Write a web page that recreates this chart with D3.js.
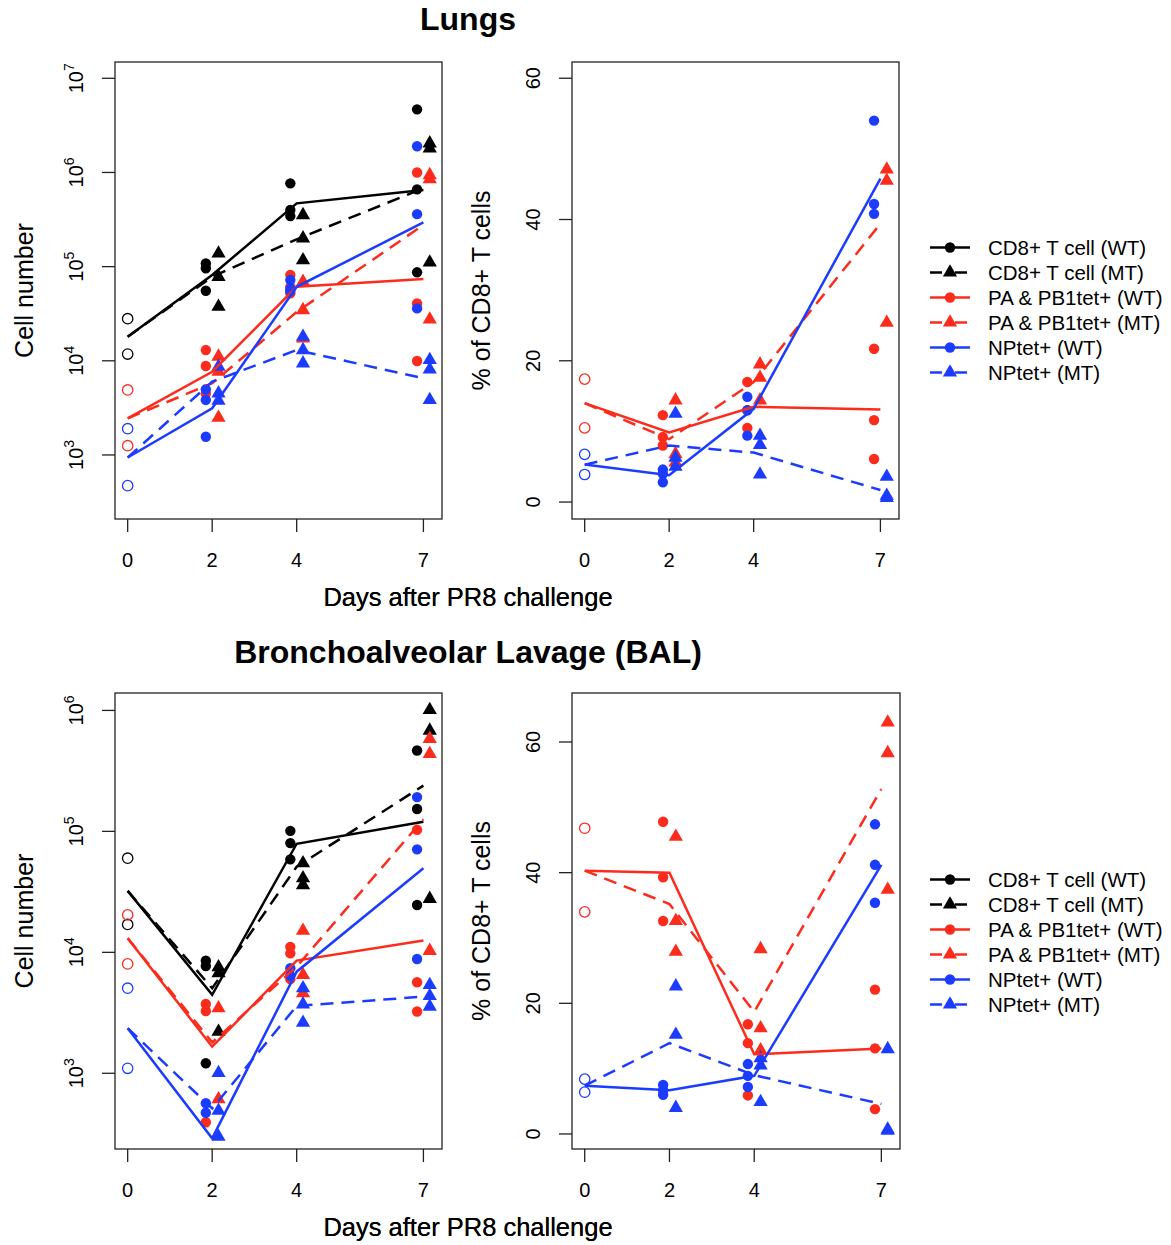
<!DOCTYPE html>
<html>
<head>
<meta charset="utf-8">
<script src="https://cdn.jsdelivr.net/npm/d3@7"></script>
<style>
	body { margin: 0; background: #fff; }
	text { font-family: "Liberation Sans", Arial, Helvetica, sans-serif; fill: #000; }
</style>
</head>
<body>
<svg id="chart" width="1171" height="1245"></svg>
<script>
// days after challenge, and series in legend order
var days = [0, 2, 4, 7];
var seriesNames = ["CD8+ T cell (WT)", "CD8+ T cell (MT)", "PA & PB1tet+ (WT)", "PA & PB1tet+ (MT)", "NPtet+ (WT)", "NPtet+ (MT)"];

var logTicksLung = [1e3, 1e4, 1e5, 1e6, 1e7];
var logTicksBal = [1e3, 1e4, 1e5, 1e6];
var pctTicks = [0, 20, 40, 60];

// --- Lungs, cell number: mean line (days 0,2,4,7) and replicates (days 2,4,7)
var lungCountMeans = [
	[18000, 81500, 470000, 650000],
	[18000, 78000, 195000, 678000],
	[2450, 7650, 61000, 73800],
	[2450, 5770, 33000, 277000],
	[940, 3130, 61000, 295000],
	[940, 6000, 13000, 6520]
];
var lungCountReps = [
	[[108000, 96000, 55500], [766000, 399000, 344000], [4680000, 662000, 87000]],
	[[138000, 78000, 37500], [353000, 200000, 117000], [2040000, 1800000, 111000]],
	[[13000, 8800, 4500], [81500, 61000, 52000], [1000000, 40700, 9950]],
	[[11100, 7650, 2490], [69000, 34600, 17300], [938000, 850000, 27500]],
	[[4980, 3840, 1560], [72000, 58000, 55000], [1900000, 361000, 36000]],
	[[8650, 4520, 3780], [18000, 13000, 9400], [10200, 8100, 3840]]
];
// naive (day 0) per cell type: CD8, PA & PB1, NP
var lungCountDay0 = [[28000, 11800], [4900, 1255], [1900, 472]];

// --- Lungs, % of CD8+
var lungPctMeans = [
	null,
	null,
	[14.0, 9.85, 13.5, 13.1],
	[14.0, 8.9, 17.0, 39.4],
	[5.3, 3.8, 13.2, 45.8],
	[5.3, 8.0, 7.0, 1.7]
];
var lungPctReps = [
	null,
	null,
	[[12.3, 9.2, 8.0], [17.0, 13.0, 10.5], [21.7, 11.6, 6.1]],
	[[14.4, 6.8, 5.6], [19.5, 17.6, 14.4], [47.1, 45.5, 25.4]],
	[[4.6, 4.0, 2.8], [14.9, 13.0, 9.4], [54.0, 42.2, 40.8]],
	[[12.5, 6.3, 5.0], [9.4, 8.1, 3.9], [3.6, 0.9, 0.6]]
];
var lungPctDay0 = [null, [17.4, 10.5], [6.75, 3.9]];

// --- BAL, cell number
var balCountMeans = [
	[32200, 4450, 79000, 120000],
	[32200, 5050, 51000, 239000],
	[13100, 1660, 8540, 12500],
	[13100, 1800, 7620, 126000],
	[2356, 290, 6920, 49600],
	[2356, 513, 3600, 4300]
];
var balCountReps = [
	[[8530, 7710, 1210], [101000, 80000, 58700], [466000, 153000, 24600]],
	[[7540, 6720, 2210], [54600, 41000, 36000], [1010000, 682000, 27700]],
	[[3740, 3270, 394], [11100, 9800, 6000], [103000, 5660, 3240]],
	[[3450, 610], [15100, 6500, 4600], [582000, 437000, 10300]],
	[[565, 472], [7400, 6400], [192000, 71000, 8810]],
	[[1006, 491, 299], [5050, 3720, 2620], [5370, 4360, 3560]]
];
var balCountDay0 = [[60000, 17000], [20400, 8020], [5050, 1100]];

// --- BAL, % of CD8+
var balPctMeans = [
	null,
	null,
	[40.3, 40.0, 12.2, 13.1],
	[40.3, 35.2, 18.7, 52.8],
	[7.4, 6.7, 8.9, 41.2],
	[7.4, 13.9, 9.0, 4.6]
];
var balPctReps = [
	null,
	null,
	[[47.8, 39.3, 32.6], [16.8, 13.9, 5.9], [22.1, 13.1, 3.8]],
	[[45.5, 32.6, 27.9], [28.3, 16.2, 12.8], [63.0, 58.3, 37.4]],
	[[7.5, 6.7, 6.0], [10.7, 8.9, 7.2], [47.4, 41.2, 35.4]],
	[[22.6, 15.2, 4.0], [11.6, 10.5, 4.9], [13.0, 0.7, 0.5]]
];
var balPctDay0 = [null, [46.8, 34.0], [8.4, 6.4]];

// styles
var RED = "#fc2b1c", BLUE = "#1b3cff";
var typeColors = ["#000000", RED, BLUE];
var DASH = "13,8";

var svg = d3.select("#chart");

function drawPanel(opt) {
	var b = opt.box;
	var g = svg.append('g');
	var clipId = "clip" + opt.id;

	svg.append('clipPath').attr('id', clipId)
		.append('rect')
		.attr('x', b.left).attr('y', b.top)
		.attr('width', b.right - b.left).attr('height', b.bottom - b.top);

	var x = d3.scaleLinear().domain([-0.3, 7.44]).range([b.left, b.right]);
	var y = (opt.log ? d3.scaleLog() : d3.scaleLinear()).domain(opt.yDomain).range([b.bottom, b.top]);

	// frame
	g.append('rect')
		.attr('x', b.left).attr('y', b.top)
		.attr('width', b.right - b.left).attr('height', b.bottom - b.top)
		.attr('fill', "none").attr('stroke', "#222").attr('stroke-width', 1.3);

	// x ticks
	days.forEach(function(d) {
		g.append('line')
			.attr('x1', x(d)).attr('x2', x(d))
			.attr('y1', b.bottom).attr('y2', b.bottom + 13)
			.attr('stroke', "#222").attr('stroke-width', 1.3);
		g.append('text')
			.attr('x', x(d)).attr('y', b.bottom + 48)
			.attr('text-anchor', "middle").attr('font-size', 20)
			.text(d);
	});

	// y ticks
	opt.yTicks.forEach(function(t) {
		g.append('line')
			.attr('x1', b.left - 13).attr('x2', b.left)
			.attr('y1', y(t)).attr('y2', y(t))
			.attr('stroke', "#222").attr('stroke-width', 1.3);
		var label = g.append('text')
			.attr('transform', "translate(" + (b.left - 32) + "," + y(t) + ") rotate(-90)")
			.attr('text-anchor', "middle").attr('font-size', 20);
		if (opt.log) {
			label.append('tspan').text("10");
			label.append('tspan').attr('dy', -9).attr('font-size', 14).text(Math.round(Math.log10(t)));
		} else {
			label.text(t);
		}
	});

	// axis titles
	g.append('text')
		.attr('transform', "translate(" + (b.left - 82) + "," + ((b.top + b.bottom) / 2) + ") rotate(-90)")
		.attr('text-anchor', "middle").attr('font-size', 25)
		.text(opt.yLabel);
	g.append('text')
		.attr('x', 468).attr('y', b.bottom + 87)
		.attr('text-anchor', "middle").attr('font-size', 25.5)
		.text("Days after PR8 challenge");

	var plot = g.append('g').attr('clip-path', "url(#" + clipId + ")");

	// naive day-0 open circles
	opt.day0.forEach(function(vals, t) {
		if (!vals) return;
		vals.forEach(function(v) {
			plot.append('circle')
				.attr('cx', x(0)).attr('cy', y(v)).attr('r', 5.2)
				.attr('fill', "none").attr('stroke', typeColors[t]).attr('stroke-width', 1.3);
		});
	});

	// replicate points: WT circles left of the day, MT triangles right
	var tri = d3.symbol(d3.symbolTriangle, 88);
	opt.reps.forEach(function(byDay, s) {
		if (!byDay) return;
		var color = typeColors[Math.floor(s / 2)];
		var mt = s % 2 === 1;
		byDay.forEach(function(vals, k) {
			var day = days[k + 1];
			vals.forEach(function(v) {
				if (mt) {
					plot.append('path')
						.attr('d', tri())
						.attr('transform', "translate(" + x(day + 0.15) + "," + y(v) + ")")
						.attr('fill', color);
				} else {
					plot.append('circle')
						.attr('cx', x(day - 0.15)).attr('cy', y(v)).attr('r', 5.2)
						.attr('fill', color);
				}
			});
		});
	});

	// mean lines
	var line = d3.line()
		.x(function(d, i) { return x(days[i]); })
		.y(function(d) { return y(d); });
	opt.means.forEach(function(vals, s) {
		if (!vals) return;
		plot.append('path')
			.attr('d', line(vals))
			.attr('fill', "none")
			.attr('stroke', typeColors[Math.floor(s / 2)])
			.attr('stroke-width', 2.5)
			.attr('stroke-dasharray', s % 2 === 1 ? DASH : null);
	});
}

function drawLegend(top) {
	var g = svg.append('g');
	var tri = d3.symbol(d3.symbolTriangle, 88);

	seriesNames.forEach(function(name, s) {
		var yy = top + s * 25;
		var color = typeColors[Math.floor(s / 2)];
		var mt = s % 2 === 1;

		g.append('line')
			.attr('x1', 930).attr('x2', 970).attr('y1', yy).attr('y2', yy)
			.attr('stroke', color).attr('stroke-width', 2.5)
			.attr('stroke-dasharray', mt ? "12,13" : null);
		if (mt) {
			g.append('path').attr('d', tri()).attr('transform', "translate(950," + yy + ")").attr('fill', color);
		} else {
			g.append('circle').attr('cx', 950).attr('cy', yy).attr('r', 5.2).attr('fill', color);
		}
		g.append('text')
			.attr('x', 988).attr('y', yy + 7)
			.attr('font-size', 20.5)
			.text(name);
	});
}

// titles
svg.append('text').attr('x', 468).attr('y', 30)
	.attr('text-anchor', "middle").attr('font-size', 32).attr('font-weight', "bold")
	.text("Lungs");
svg.append('text').attr('x', 468).attr('y', 663)
	.attr('text-anchor', "middle").attr('font-size', 32).attr('font-weight', "bold")
	.text("Bronchoalveolar Lavage (BAL)");

drawPanel({
	id: 1, box: {left: 115, right: 442, top: 62, bottom: 519},
	log: true, yDomain: [Math.pow(10, 2.32), Math.pow(10, 7.173)], yTicks: logTicksLung,
	yLabel: "Cell number",
	means: lungCountMeans, reps: lungCountReps, day0: lungCountDay0
});
drawPanel({
	id: 2, box: {left: 572, right: 899, top: 62, bottom: 519},
	log: false, yDomain: [-2.4, 62.3], yTicks: pctTicks,
	yLabel: "% of CD8+ T cells",
	means: lungPctMeans, reps: lungPctReps, day0: lungPctDay0
});
drawPanel({
	id: 3, box: {left: 115, right: 442, top: 693, bottom: 1149},
	log: true, yDomain: [Math.pow(10, 2.374), Math.pow(10, 6.144)], yTicks: logTicksBal,
	yLabel: "Cell number",
	means: balCountMeans, reps: balCountReps, day0: balCountDay0
});
drawPanel({
	id: 4, box: {left: 572, right: 900, top: 693, bottom: 1149},
	log: false, yDomain: [-2.3, 67.5], yTicks: pctTicks,
	yLabel: "% of CD8+ T cells",
	means: balPctMeans, reps: balPctReps, day0: balPctDay0
});

drawLegend(247.5);
drawLegend(879.5);
</script>
</body>
</html>
